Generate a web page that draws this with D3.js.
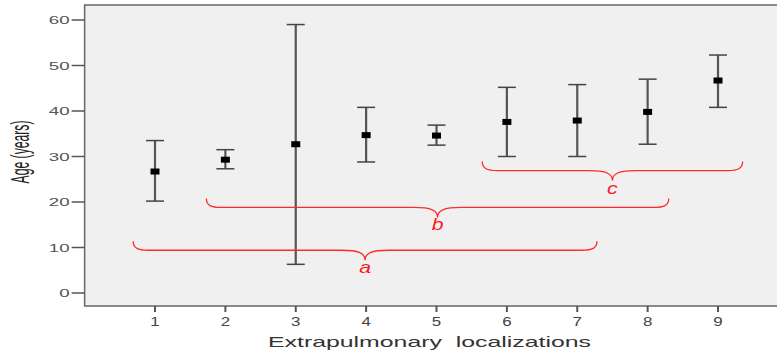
<!DOCTYPE html>
<html>
<head>
<meta charset="utf-8">
<script src="https://cdn.jsdelivr.net/npm/d3@7"></script>
<style>
  body { margin: 0; background: #fff; }
  svg { display: block; }
</style>
</head>
<body>
<svg id="chart" width="777" height="358"></svg>
<script>
// localizations 1..9, mean age and error bar ends (years)
var groups = [1, 2, 3, 4, 5, 6, 7, 8, 9];
var means = [26.7, 29.3, 32.7, 34.7, 34.6, 37.6, 37.9, 39.8, 46.7];
var upper = [33.5, 31.5, 59.0, 40.8, 36.9, 45.2, 45.8, 47.0, 52.3];
var lower = [20.2, 27.3, 6.3, 28.8, 32.5, 30.0, 30.0, 32.7, 40.8];
var yTicks = [0, 10, 20, 30, 40, 50, 60];

// red braces grouping localizations
var braceLabels = ['a', 'b', 'c'];
var braceFrom = [0.69, 1.73, 5.65];
var braceTo = [7.28, 8.3, 9.35];
var braceLevel = [9.4, 18.8, 26.9];

var svg = d3.select('#chart');

var x = d3.scaleLinear().domain([1, 9]).range([155, 718]);
var y = d3.scaleLinear().domain([0, 60]).range([293, 20]);

var plotLeft = x(0), plotRight = x(10), plotTop = 5, plotBottom = 306;

svg.append('rect')
    .attr('x', plotLeft).attr('y', plotTop)
    .attr('width', plotRight - plotLeft).attr('height', plotBottom - plotTop)
    .attr('fill', '#f0f0f0')
    .attr('stroke', '#666')
    .attr('stroke-width', 1.5);

// y axis
var yAxis = svg.append('g');
yAxis.selectAll('line')
    .data(yTicks).enter()
    .append('line')
    .attr('x1', plotLeft - 13).attr('x2', plotLeft)
    .attr('y1', d => y(d)).attr('y2', d => y(d))
    .attr('stroke', '#555').attr('stroke-width', 1.5);
yAxis.selectAll('text')
    .data(yTicks).enter()
    .append('text')
    .attr('transform', d => 'translate(' + (plotLeft - 15) + ',' + (y(d) + 4) + ') scale(1.7,1)')
    .attr('text-anchor', 'end')
    .attr('font-family', 'Liberation Sans, Arial, sans-serif')
    .attr('font-size', 11)
    .attr('fill', '#555')
    .text(d => d);

// x axis
var xAxis = svg.append('g');
xAxis.selectAll('line')
    .data(groups).enter()
    .append('line')
    .attr('x1', d => x(d)).attr('x2', d => x(d))
    .attr('y1', plotBottom).attr('y2', plotBottom + 6)
    .attr('stroke', '#555').attr('stroke-width', 2);
xAxis.selectAll('text')
    .data(groups).enter()
    .append('text')
    .attr('transform', d => 'translate(' + x(d) + ',' + (plotBottom + 20) + ') scale(1.3,1)')
    .attr('text-anchor', 'middle')
    .attr('font-family', 'Liberation Sans, Arial, sans-serif')
    .attr('font-size', 13)
    .attr('fill', '#444')
    .text(d => d);

svg.append('text')
    .attr('x', 268).attr('y', 347)
    .attr('font-family', 'Liberation Sans, Arial, sans-serif')
    .attr('font-size', 15)
    .attr('fill', '#333')
    .attr('textLength', 323)
    .attr('lengthAdjust', 'spacingAndGlyphs')
    .text('Extrapulmonary\u00a0\u00a0localizations');

svg.append('text')
    .attr('transform', 'translate(29,152) scale(1.6,1) rotate(-90)')
    .attr('text-anchor', 'middle')
    .attr('font-family', 'Liberation Sans, Arial, sans-serif')
    .attr('font-size', 16)
    .attr('fill', '#222')
    .attr('textLength', 63)
    .attr('lengthAdjust', 'spacingAndGlyphs')
    .text('Age (years)');

// error bars
var bars = svg.append('g').selectAll('g')
    .data(groups).enter()
    .append('g');

bars.append('line')
    .attr('x1', d => x(d)).attr('x2', d => x(d))
    .attr('y1', (d, i) => y(upper[i])).attr('y2', (d, i) => y(lower[i]))
    .attr('stroke', '#555').attr('stroke-width', 2.2);

[upper, lower].forEach(function(arr) {
    bars.append('line')
        .attr('x1', d => x(d) - 9).attr('x2', d => x(d) + 9)
        .attr('y1', (d, i) => y(arr[i])).attr('y2', (d, i) => y(arr[i]))
        .attr('stroke', '#444').attr('stroke-width', 1.5);
});

bars.append('rect')
    .attr('x', d => x(d) - 4.5)
    .attr('y', (d, i) => y(means[i]) - 3)
    .attr('width', 9).attr('height', 6)
    .attr('fill', '#000');

// curly brace path from x1 to x2 at line level ly
function brace(x1, x2, ly) {
    var xm = (x1 + x2) / 2, h = 9, r = 15, d = 10;
    return 'M' + x1 + ',' + (ly - h) +
        ' C' + x1 + ',' + (ly - 2) + ' ' + (x1 + 5) + ',' + ly + ' ' + (x1 + r) + ',' + ly +
        ' L' + (xm - r * 1.6) + ',' + ly +
        ' C' + (xm - 6) + ',' + ly + ' ' + xm + ',' + (ly + 3) + ' ' + xm + ',' + (ly + d) +
        ' C' + xm + ',' + (ly + 3) + ' ' + (xm + 6) + ',' + ly + ' ' + (xm + r * 1.6) + ',' + ly +
        ' L' + (x2 - r) + ',' + ly +
        ' C' + (x2 - 5) + ',' + ly + ' ' + x2 + ',' + (ly - 2) + ' ' + x2 + ',' + (ly - h);
}

var braces = svg.append('g').selectAll('g')
    .data(braceLabels).enter()
    .append('g');

braces.append('path')
    .attr('d', (d, i) => brace(x(braceFrom[i]), x(braceTo[i]), y(braceLevel[i])))
    .attr('fill', 'none')
    .attr('stroke', '#ff2a2a')
    .attr('stroke-width', 1.3);

braces.append('text')
    .attr('transform', (d, i) => 'translate(' + (x(braceFrom[i]) + x(braceTo[i])) / 2 + ',' +
        (y(braceLevel[i]) + 23) + ') scale(1.25,1)')
    .attr('text-anchor', 'middle')
    .attr('font-family', 'Liberation Sans, Arial, sans-serif')
    .attr('font-style', 'italic')
    .attr('font-size', 17)
    .attr('fill', '#ff1a1a')
    .text(d => d);
</script>
</body>
</html>
